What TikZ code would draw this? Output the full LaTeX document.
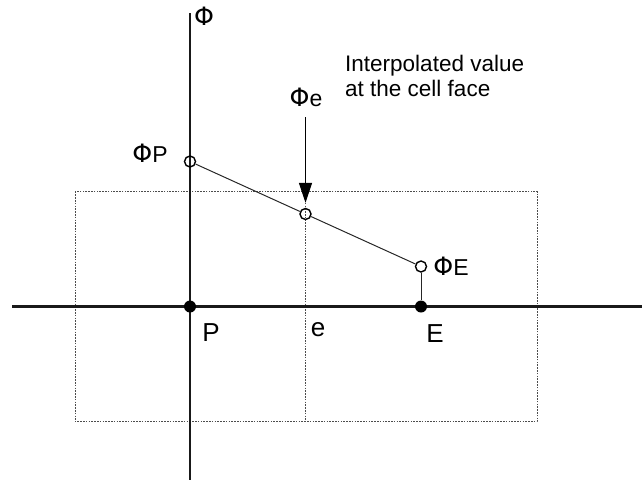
\documentclass[tikz,border=0pt]{standalone}
\usepackage{fontspec}
\setmainfont{Liberation Sans}
\newfontfamily\phifont{DejaVu Sans}[Scale=1.1]
\newcommand{\myPhi}{{\phifont Φ}}
\usetikzlibrary{arrows.meta}
\begin{document}
\begin{tikzpicture}[x=1pt,y=-1pt,
  axis/.style={line width=2.2pt,black!90},
  cell/.style={line width=1pt,black!70,dash pattern=on 1.6pt off 1.2pt},
  valpt/.style={circle,draw,line width=1.4pt,minimum size=11pt,inner sep=0pt},
  gridpt/.style={circle,fill=black,minimum size=12pt,inner sep=0pt},
  lbl/.style={font=\fontsize{23}{26}\selectfont,inner sep=0pt},
  notelbl/.style={font=\fontsize{22.5}{25}\selectfont,inner sep=0pt},
  biglbl/.style={font=\fontsize{26}{30}\selectfont,inner sep=0pt},
  conn/.style={line width=1pt,black!85}]
\useasboundingbox (0,0) rectangle (642,480);
% cell boundaries
\draw[cell] (75,191.5) rectangle (537,421.5);
\draw[cell] (305.5,191.5) -- (305.5,421.5);
% axes
\coordinate (xl) at (12,306.5);
\coordinate (xr) at (642,306.5);
\coordinate (yt) at (190,13);
\coordinate (yb) at (190,480);
\draw[axis] (xl) -- (xr);
\draw[axis] (yt) -- (yb);
% grid points
\node[gridpt] (P) at (190,306.5) {};
\node[gridpt] (E) at (421,306.5) {};
% values
\node[valpt] (cP) at (190,161.5) {};
\node[valpt] (ce) at (305.5,214) {};
\node[valpt] (cE) at (421,266.5) {};
\draw[conn] (cP) -- (ce) -- (cE);
\draw[conn] (cE) -- (E);
% arrow
\coordinate (atop) at (305.5,117);
\draw[line width=1.3pt,-{Triangle[length=20pt,width=13pt]},shorten >=5pt] (atop) -- (ce.north);
% labels
\node[lbl,anchor=base] (phi) at (204,25) {\myPhi};
\node[lbl,anchor=base] (phiP) at (150,162) {\myPhi P};
\node[lbl,anchor=base] (phie) at (306,106) {\myPhi e};
\node[lbl,anchor=base] (phiE) at (451,275) {\myPhi E};
\node[biglbl,anchor=base] (lP) at (211,341) {P};
\node[biglbl,anchor=base] (le) at (318,336) {e};
\node[biglbl,anchor=base] (lE) at (435,342) {E};
\node[notelbl,anchor=base west,align=left] (note) at (345,96) {Interpolated value\\at the cell face};
\end{tikzpicture}
\end{document}
